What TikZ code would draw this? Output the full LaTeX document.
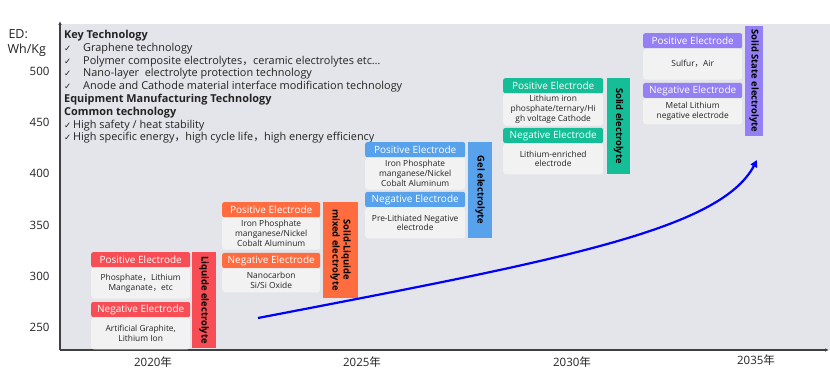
\documentclass[tikz,border=0pt]{standalone}
\usepackage{fontspec}
\setmainfont{Open Sans}
\newfontfamily\cjk{Noto Sans CJK SC}
\newfontfamily\symf{DejaVu Sans}
\usetikzlibrary{arrows.meta,positioning}
\usepackage{xcolor}

\definecolor{plotbg}{RGB}{228,229,234}
\definecolor{descbg}{RGB}{242,242,242}
\definecolor{axisc}{RGB}{64,64,64}
\definecolor{txtc}{RGB}{35,35,35}
\definecolor{cRed}{RGB}{246,78,84}
\definecolor{cOrange}{RGB}{255,108,64}
\definecolor{cBlue}{RGB}{88,162,236}
\definecolor{cTeal}{RGB}{22,190,152}
\definecolor{cPurple}{RGB}{148,128,244}

\newcommand{\chk}{{\symf\fontsize{8.5}{9}\selectfont ✓}}
\newcommand{\fc}{{\cjk ，}}

\begin{document}
\begin{tikzpicture}[x=1pt, y=-1pt, font=\fontsize{10.9}{12.8}\selectfont, text=txtc,
  elec/.style={rounded corners=2pt, text=white, font=\fontsize{10}{10}\selectfont, inner sep=0pt, minimum height=15pt},
  desc/.style={fill=descbg, rounded corners=3pt, align=center, font=\fontsize{8.4}{9.8}\selectfont, inner sep=0pt},
  elyte/.style={rotate=-90, font=\bfseries\fontsize{9.4}{11}\selectfont, align=center, inner sep=0pt, text=black},
  tick/.style={anchor=east, font=\fontsize{11.5}{13}\selectfont},
  year/.style={font=\fontsize{11.5}{13}\selectfont},
  axis/.style={draw=axisc, line width=1.4pt, -{Latex[length=4pt,width=3.5pt]}},
  trend/.style={draw=blue, line width=2.2pt, -{Triangle[length=7pt,width=7pt]}}]
\useasboundingbox (0,0) rectangle (830,374);
\fill[plotbg] (60,24) rectangle (830,350);

% axes
\coordinate (o) at (60,350);
\coordinate (ytop) at (60,21);
\coordinate (xend) at (829,350);
\draw[axis] (o) -- (ytop);
\draw[axis] (o) -- (xend);

\node[anchor=west, font=\fontsize{12.5}{13}\selectfont] (unit1) at (5,34) {ED:};
\node[anchor=west, font=\fontsize{12.5}{13}\selectfont] (unit2) at (4,50) {Wh/Kg};
\node[tick] (t500) at (53,71) {500};
\node[tick] (t450) at (53,122) {450};
\node[tick] (t400) at (53,173) {400};
\node[tick] (t350) at (53,225) {350};
\node[tick] (t300) at (53,276) {300};
\node[tick] (t250) at (53,327) {250};
\node[year] (y2020) at (153,362) {2020{\cjk 年}};
\node[year] (y2025) at (362,362) {2025{\cjk 年}};
\node[year] (y2030) at (572,362) {2030{\cjk 年}};
\node[year] (y2035) at (756,360) {2035{\cjk 年}};

% key technology text
\node[anchor=north west, align=left, inner sep=0pt] (keytech) at (64,30) {%
\textbf{Key Technology}\\
\makebox[19pt][l]{\chk}Graphene technology\\
\makebox[19pt][l]{\chk}Polymer composite electrolytes\fc ceramic electrolytes etc\dots\\
\makebox[19pt][l]{\chk}Nano-layer\ \ electrolyte protection technology\\
\makebox[19pt][l]{\chk}Anode and Cathode material interface modification technology\\
\textbf{Equipment Manufacturing Technology}\\
\textbf{Common technology}\\
\chk\,High safety / heat stability\\
\chk\,High specific energy\fc high cycle life\fc high energy efficiency};

% 2020
\node[elec, fill=cRed, minimum width=99pt, anchor=north west] (pos1) at (91,252) {Positive Electrode};
\node[desc, minimum width=99pt, minimum height=31pt, below=0pt of pos1] (posd1) {Phosphate\fc Lithium\\Manganate\fc etc};
\node[elec, fill=cRed, minimum width=99pt, below=3pt of posd1] (neg1) {Negative Electrode};
\node[desc, minimum width=99pt, minimum height=32pt, below=0pt of neg1] (negd1) {Artificial Graphite,\\Lithium Ion};
\node[elyte, fill=cRed, minimum width=96pt, minimum height=24pt] (bar1) at (204,300) {Liquide electrolyte};

% 2025
\node[elec, fill=cOrange, minimum width=98pt, anchor=north west] (pos2) at (222,202) {Positive Electrode};
\node[desc, minimum width=98pt, minimum height=32pt, below=0pt of pos2] (posd2) {Iron Phosphate\\manganese/Nickel\\Cobalt Aluminum};
\node[elec, fill=cOrange, minimum width=98pt, below=3pt of posd2] (neg2) {Negative Electrode};
\node[desc, minimum width=98pt, minimum height=24pt, below=0pt of neg2] (negd2) {Nanocarbon\\Si/Si Oxide};
\node[elyte, fill=cOrange, minimum width=96pt, minimum height=35pt] (bar2) at (340.5,250) {Solid-Liquide\\mixed electrolyte};

% gel
\node[elec, fill=cBlue, minimum width=100pt, anchor=north west] (pos3) at (365,142) {Positive Electrode};
\node[desc, minimum width=100pt, minimum height=32pt, below=0pt of pos3] (posd3) {Iron Phosphate\\manganese/Nickel\\Cobalt Aluminum};
\node[elec, fill=cBlue, minimum width=100pt, below=2pt of posd3] (neg3) {Negative Electrode};
\node[desc, minimum width=100pt, minimum height=31pt, below=0pt of neg3] (negd3) {Pre-Lithiated Negative\\electrode};
\node[elyte, fill=cBlue, minimum width=96pt, minimum height=24pt] (bar3) at (480,190) {Gel electrolyte};

% 2030
\node[elec, fill=cTeal, minimum width=100pt, anchor=north west] (pos4) at (503,78) {Positive Electrode};
\node[desc, minimum width=100pt, minimum height=32pt, below=0pt of pos4] (posd4) {Lithium iron\\phosphate/ternary/Hi\\gh voltage Cathode};
\node[elec, fill=cTeal, minimum width=100pt, below=2pt of posd4] (neg4) {Negative Electrode};
\node[desc, minimum width=100pt, minimum height=31pt, below=0pt of neg4] (negd4) {Lithium-enriched\\electrode};
\node[elyte, fill=cTeal, minimum width=96pt, minimum height=23pt] (bar4) at (618.5,126) {Solid electrolyte};

% 2035
\node[elec, fill=cPurple, minimum width=99pt, anchor=north west] (pos5) at (643,33) {Positive Electrode};
\node[desc, minimum width=99pt, minimum height=31pt, below=0pt of pos5] (posd5) {Sulfur\fc Air};
\node[elec, fill=cPurple, minimum width=99pt, below=3pt of posd5] (neg5) {Negative Electrode};
\node[desc, minimum width=99pt, minimum height=26pt, below=0pt of neg5] (negd5) {Metal Lithium\\negative electrode};
\node[elyte, fill=cPurple, minimum width=110pt, minimum height=18pt] (bar5) at (754,81) {Solid State electrolyte};

% energy trend
\coordinate (tstart) at (258,318);
\coordinate (tend) at (757,160);
\draw[trend] (tstart) .. controls (560,260) and (720,230) .. (tend);
\end{tikzpicture}
\end{document}
